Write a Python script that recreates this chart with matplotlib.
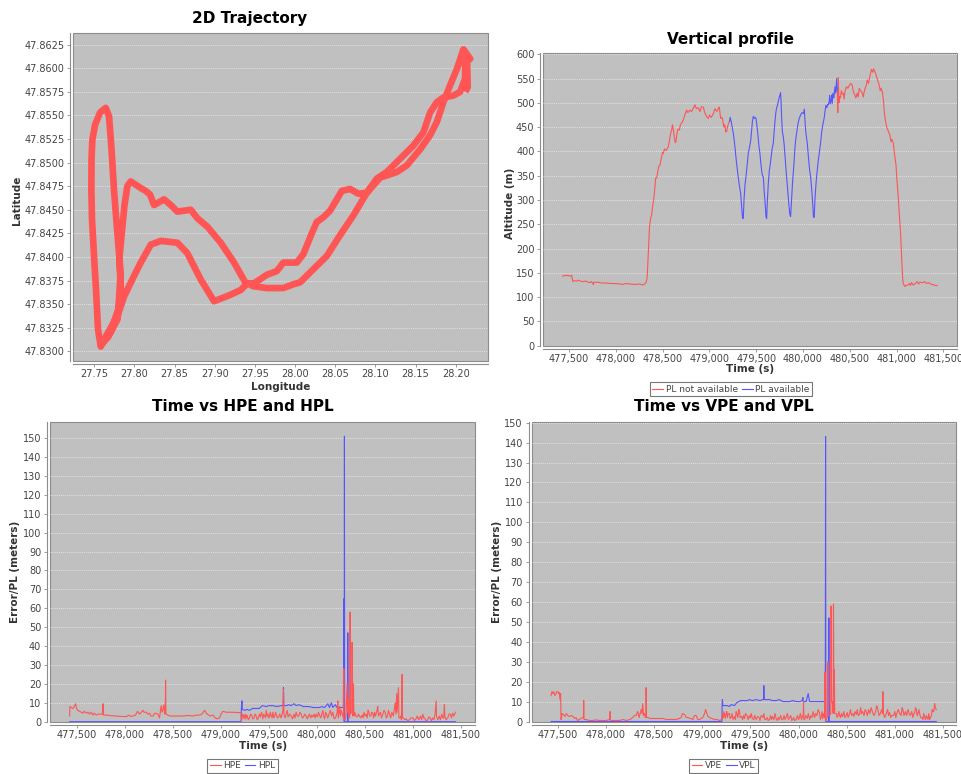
import matplotlib
matplotlib.use("Agg")
import matplotlib.pyplot as plt
from matplotlib.ticker import FuncFormatter, MultipleLocator

# ---- 2D trajectory (lon, lat) read along the flight path ----
traj_lon = [28.2096, 28.2014, 28.1931, 28.1847, 28.1765, 28.1681, 28.1557, 28.1391, 28.1267,
            28.1059, 28.0893, 28.0726, 28.0560, 28.0395, 28.0228, 28.0062, 27.9979, 27.9854,
            27.9647, 27.9477, 27.9406, 27.9324, 27.9199, 27.8991, 27.8825, 27.8658, 27.8534,
            27.8327, 27.8203, 27.8078, 27.7995, 27.7870, 27.7786, 27.7658, 27.7580,
            27.7546, 27.7521, 27.7496, 27.7471, 27.7463, 27.7465, 27.7475, 27.7509, 27.7571, 27.7642,
            27.7683, 27.7714, 27.7745, 27.7783, 27.7814, 27.7829, 27.7789, 27.7671, 27.7583,
            27.7700, 27.7800, 27.7825, 27.7814, 27.7846, 27.7876, 27.7911, 27.7953,
            27.8078, 27.8140, 27.8194, 27.8244, 27.8368, 27.8452, 27.8534, 27.8701, 27.8783,
            27.8908, 27.9074, 27.9240, 27.9386, 27.9489, 27.9647, 27.9772, 27.9854, 28.0021,
            28.0103, 28.0208, 28.0270, 28.0352, 28.0436, 28.0582, 28.0685, 28.0788, 28.0893,
            28.1018, 28.1142, 28.1308, 28.1473, 28.1598, 28.1681, 28.1765, 28.1847, 28.1972,
            28.2055, 28.2117, 28.2117, 28.2096, 28.2180, 28.2142, 28.2150, 28.2120]
traj_lat = [47.8620, 47.8599, 47.8582, 47.8564, 47.8543, 47.8529, 47.8514, 47.8497, 47.8490,
            47.8484, 47.8468, 47.8444, 47.8423, 47.8401, 47.8387, 47.8373, 47.8371, 47.8367,
            47.8367, 47.8369, 47.8372, 47.8365, 47.8360, 47.8353, 47.8376, 47.8404, 47.8415,
            47.8417, 47.8413, 47.8394, 47.8380, 47.8358, 47.8337, 47.8318, 47.8305,
            47.8323, 47.8365, 47.8401, 47.8440, 47.8471, 47.8503, 47.8524, 47.8540, 47.8553, 47.8558,
            47.8549, 47.8514, 47.8471, 47.8429, 47.8397, 47.8365, 47.8334, 47.8315, 47.8307,
            47.8320, 47.8345, 47.8380, 47.8400, 47.8429, 47.8455, 47.8475, 47.8480,
            47.8473, 47.8470, 47.8466, 47.8455, 47.8461, 47.8455, 47.8448, 47.8450, 47.8441,
            47.8432, 47.8415, 47.8394, 47.8372, 47.8372, 47.8381, 47.8385, 47.8394, 47.8394,
            47.8403, 47.8425, 47.8437, 47.8442, 47.8449, 47.8470, 47.8472, 47.8467, 47.8468,
            47.8483, 47.8490, 47.8504, 47.8518, 47.8532, 47.8553, 47.8564, 47.8569, 47.8571,
            47.8575, 47.8589, 47.8613, 47.8620, 47.8610, 47.8607, 47.8580, 47.8575]

# ---- vertical profile ----
alt_red1_t = [477432, 477450, 477470, 477490, 477510, 477528, 477535, 477540, 477560, 477580,
              477600, 477620, 477650, 477680, 477700, 477720, 477740, 477760, 477765, 477780,
              477800, 477850, 477900, 477950, 478000, 478050, 478080, 478100, 478150, 478200,
              478250, 478290, 478310, 478325, 478335, 478347, 478360, 478372, 478383, 478390,
              478400, 478408, 478420, 478425, 478436, 478450, 478460, 478472, 478485, 478500,
              478508, 478520, 478540, 478561, 478575, 478590, 478597, 478605, 478614, 478625,
              478635, 478643, 478655, 478665, 478679, 478690, 478710, 478721, 478740, 478757,
              478770, 478793, 478810, 478830, 478846, 478860, 478880, 478900, 478915, 478935,
              478950, 478970, 478988, 479000, 479020, 479042, 479060, 479080, 479100, 479106,
              479120, 479135, 479142, 479155, 479165, 479175, 479184, 479195, 479206, 479215]
alt_red1 = [143, 145, 144, 145, 143, 145, 138, 132, 134, 133,
            135, 133, 132, 133, 131, 130, 132, 126, 131, 130,
            131, 129, 129, 128, 128, 127, 126, 128, 127, 126,
            127, 125, 127, 131, 140, 190, 245, 262, 269, 282,
            295, 307, 330, 345, 345, 360, 370, 372, 385, 398,
            396, 405, 402, 410, 425, 440, 444, 455, 446, 430,
            418, 420, 440, 446, 444, 455, 460, 465, 476, 485,
            480, 485, 482, 490, 496, 488, 490, 482, 492, 491,
            480, 472, 468, 475, 470, 478, 488, 482, 490, 491,
            468, 470, 465, 450, 455, 440, 441, 452, 458, 462]
alt_blue_t = [479215, 479222, 479235, 479245, 479256, 479270, 479280, 479291, 479305, 479320,
              479334, 479345, 479355, 479362, 479370, 479380, 479391, 479405, 479415, 479426,
              479440, 479450, 479460, 479469, 479480, 479490, 479498, 479510, 479520, 479530,
              479540, 479550, 479560, 479568, 479576, 479585, 479595, 479605, 479612, 479620,
              479630, 479640, 479647, 479658, 479670, 479683, 479692, 479700, 479710, 479718,
              479730, 479745, 479761, 479765, 479772, 479780, 479790, 479800, 479812, 479825,
              479838, 479850, 479860, 479868, 479878, 479890, 479904, 479915, 479925, 479932,
              479945, 479960, 479975, 479990, 480005, 480014, 480022, 480030, 480046, 480060,
              480072, 480082, 480095, 480105, 480112, 480120, 480128, 480140, 480146, 480160,
              480175, 480188, 480200, 480215, 480228, 480235, 480245, 480255, 480265, 480270,
              480280, 480285, 480290, 480300, 480306, 480312, 480320, 480330, 480342, 480350,
              480360, 480367]
alt_blue = [462, 470, 460, 448, 437, 415, 395, 375, 352, 330,
            314, 285, 262, 262, 300, 330, 348, 375, 395, 406,
            420, 440, 462, 472, 468, 470, 468, 450, 432, 410,
            396, 375, 358, 350, 348, 320, 295, 265, 262, 300,
            335, 360, 368, 385, 405, 417, 440, 460, 480, 489,
            497, 510, 521, 505, 470, 440, 430, 412, 380, 348,
            318, 290, 270, 266, 300, 340, 375, 410, 428, 437,
            455, 468, 475, 480, 478, 487, 462, 440, 417, 385,
            360, 348, 318, 290, 265, 264, 300, 335, 348, 375,
            398, 417, 440, 458, 470, 482, 495, 490, 497, 496,
            502, 515, 498, 505, 516, 498, 520, 510, 533, 520,
            550, 525]
alt_red2_t = [480367, 480372, 480378, 480385, 480388, 480400, 480410, 480420, 480431, 480440,
              480450, 480466, 480480, 480495, 480512, 480525, 480540, 480555, 480565, 480580,
              480590, 480602, 480615, 480630, 480645, 480651, 480665, 480675, 480687, 480700,
              480715, 480733, 480745, 480755, 480769, 480785, 480800, 480815, 480825, 480835,
              480851, 480860, 480870, 480880, 480894, 480905, 480915, 480929, 480940, 480950,
              480965, 480975, 480985, 480993, 481005, 481018, 481030, 481043, 481055, 481065,
              481072, 481080, 481089, 481100, 481120, 481140, 481150, 481160, 481178, 481200,
              481220, 481235, 481250, 481265, 481285, 481300, 481320, 481340, 481356, 481380,
              481400, 481420, 481434]
alt_red2 = [525, 480, 552, 500, 513, 510, 525, 518, 520, 508,
            525, 533, 530, 536, 540, 537, 522, 516, 510, 520,
            512, 530, 525, 522, 512, 520, 530, 535, 547, 540,
            555, 569, 563, 570, 564, 555, 545, 537, 525, 530,
            520, 505, 480, 465, 451, 445, 440, 434, 420, 425,
            417, 400, 385, 375, 340, 307, 270, 231, 180, 140,
            128, 125, 122, 124, 125, 128, 124, 130, 125, 128,
            132, 127, 131, 130, 130, 132, 128, 130, 128, 126,
            125, 124, 124]

# ---- HPE / HPL, (time, metres) ----
hpe_pts = [
    (477424, 3), (477426, 8), (477440, 7.5), (477458, 7), (477470, 8), (477486, 9.5),
    (477495, 7), (477510, 6), (477525, 5.5), (477545, 5), (477560, 4.5), (477575, 5.5),
    (477597, 4.5), (477615, 5), (477630, 4), (477649, 5), (477665, 3.5), (477680, 4.5),
    (477701, 3.5), (477720, 4), (477736, 4), (477765, 4), (477771, 9.5), (477776, 3.5),
    (477805, 3.5), (477850, 3.2), (477909, 3), (477950, 2.8), (478014, 2.7), (478040, 3.5),
    (478060, 2.8), (478083, 3), (478110, 3.5), (478130, 5.5), (478152, 4), (478170, 5),
    (478187, 6), (478200, 5), (478222, 5), (478240, 4), (478256, 4.5), (478270, 3),
    (478291, 3), (478310, 4.5), (478343, 4), (478360, 2), (478370, 6), (478378, 8.5),
    (478385, 5), (478395, 6), (478405, 9), (478415, 4), (478420, 5), (478423, 22),
    (478426, 4), (478447, 3.5), (478470, 3), (478499, 3), (478550, 3), (478603, 3),
    (478650, 3.3), (478708, 3), (478740, 3.5), (478777, 3.5), (478800, 4), (478830, 6),
    (478846, 4.5), (478870, 3.5), (478890, 3), (478916, 3.5), (478940, 2), (478960, 1.5),
    (478985, 2), (479000, 4), (479020, 5.5), (479055, 5), (479090, 5), (479124, 5),
    (479170, 4.8), (479205, 4.7),
    (479211, 4.5), (479214, 0.5), (479221, 2.5), (479228, 4), (479235, 3), (479240, 1.5),
    (479245, 2.5), (479252, 4), (479260, 1.5), (479268, 3.5), (479275, 3), (479285, 1),
    (479297, 2), (479308, 4), (479320, 3.5), (479330, 1.5), (479345, 2), (479355, 4),
    (479367, 3), (479378, 1), (479390, 2), (479400, 4), (479410, 2.5), (479422, 5),
    (479436, 1.5), (479445, 4), (479455, 3), (479465, 2), (479471, 6), (479480, 3),
    (479490, 4), (479498, 2), (479505, 3), (479515, 5), (479523, 3), (479532, 2),
    (479540, 5), (479550, 2), (479560, 3), (479568, 5), (479575, 4), (479588, 2),
    (479600, 2.5), (479612, 4), (479627, 2), (479637, 4), (479645, 6), (479651, 17),
    (479656, 4), (479668, 2), (479679, 4), (479690, 6), (479700, 2.5), (479715, 4),
    (479731, 3), (479745, 1.5), (479760, 4), (479770, 2), (479783, 5), (479795, 3),
    (479810, 3), (479822, 5), (479835, 4), (479848, 2), (479860, 2.5), (479872, 4),
    (479887, 3), (479900, 1.5), (479910, 3), (479920, 4), (479935, 2), (479945, 3.5),
    (479957, 2.5), (479970, 4), (479980, 2), (479990, 4), (480005, 2.5), (480015, 5),
    (480026, 3.5), (480040, 2), (480050, 4), (480061, 6), (480070, 3), (480080, 1.5),
    (480090, 5), (480100, 4), (480113, 2), (480125, 4), (480140, 6), (480152, 3),
    (480165, 5), (480175, 2), (480185, 1.5), (480200, 3), (480210, 5), (480217, 11),
    (480222, 2), (480230, 5), (480235, 8), (480245, 3), (480252, 6), (480265, 4),
    (480276, 2), (480279, 28), (480283, 1), (480293, 1), (480300, 2), (480314, 20),
    (480318, 5), (480324, 12), (480330, 4), (480340, 2), (480345, 58), (480349, 4),
    (480356, 5), (480363, 5), (480366, 42), (480370, 3), (480376, 5), (480380, 20),
    (480384, 3),
    (480394, 5), (480405, 3), (480420, 2.5), (480432, 4), (480443, 3), (480455, 2),
    (480470, 3.5), (480480, 2), (480490, 5), (480500, 3), (480512, 4), (480522, 2),
    (480532, 6), (480540, 5), (480550, 3), (480560, 3), (480570, 5), (480581, 4.5),
    (480590, 2), (480600, 5), (480608, 3), (480615, 4), (480625, 6), (480633, 8),
    (480640, 3), (480650, 4), (480660, 5), (480672, 2), (480685, 4), (480698, 6),
    (480710, 5), (480722, 2), (480735, 3), (480745, 6), (480755, 4), (480768, 2),
    (480780, 5), (480795, 3), (480807, 7), (480815, 10), (480822, 4), (480831, 15),
    (480835, 5), (480849, 18), (480853, 2), (480866, 2), (480875, 3), (480880, 1),
    (480887, 25), (480891, 2), (480901, 2), (480915, 1), (480930, 1.5), (480945, 0.5),
    (480963, 1), (480980, 2), (481000, 2), (481015, 0.5), (481032, 1.5), (481045, 3),
    (481060, 1), (481070, 2), (481080, 3), (481090, 1), (481102, 4), (481112, 2),
    (481120, 2), (481135, 0.5), (481154, 1), (481165, 2.5), (481180, 2), (481192, 0.5),
    (481206, 2), (481218, 1), (481230, 4), (481241, 11), (481245, 3), (481258, 1),
    (481275, 3), (481285, 1), (481300, 4), (481310, 2), (481320, 2), (481327, 9),
    (481332, 3), (481345, 1), (481362, 2), (481375, 4), (481390, 4), (481400, 2),
    (481414, 4.5), (481425, 3), (481442, 5)]
hpl_pts = [
    (477424, 0), (479210, 0), (479212, 6.5), (479218, 11), (479222, 6.5), (479245, 6),
    (479270, 6.5), (479297, 6), (479330, 7), (479367, 7), (479400, 7), (479430, 8.5),
    (479470, 8), (479500, 8.5), (479540, 8.5), (479580, 8), (479627, 8.5), (479648, 8.5),
    (479651, 18), (479654, 8.5), (479679, 8.5), (479710, 9), (479731, 8.5), (479760, 9.5),
    (479783, 8.5), (479810, 9), (479835, 8.5), (479860, 8), (479887, 8), (479920, 8),
    (479957, 7.5), (480000, 7.5), (480026, 7.5), (480050, 8), (480080, 7.5), (480113, 9.5),
    (480130, 7.5), (480150, 10), (480165, 7.5), (480190, 9), (480210, 7.5), (480252, 7.5),
    (480275, 7.5), (480280, 65), (480284, 0), (480286, 151), (480288, 0), (480318, 0),
    (480321, 47), (480324, 0), (481442, 0)]

# ---- VPE / VPL, (time, metres) ----
vpe_pts = [
    (477431, 13), (477440, 15), (477448, 14), (477460, 15), (477470, 13), (477483, 14),
    (477490, 15), (477500, 15), (477510, 14), (477517, 14.5), (477524, 11), (477530, 14),
    (477535, 1), (477545, 4), (477559, 3.5), (477575, 2.5), (477590, 4), (477604, 3),
    (477620, 2.5), (477639, 3), (477660, 2.5), (477675, 1.5), (477690, 2), (477705, 0.5),
    (477725, 1), (477740, 1.5), (477760, 2), (477767, 2), (477770, 10.5), (477773, 1),
    (477794, 1), (477830, 0.5), (477864, 0.5), (477900, 0.8), (477933, 0.5), (477970, 0.5),
    (478002, 0.5), (478040, 1), (478044, 5), (478048, 0.5), (478071, 0.5), (478141, 0.5),
    (478180, 1), (478210, 0.5), (478250, 1), (478279, 2), (478295, 3), (478314, 3),
    (478330, 5), (478345, 2), (478366, 6), (478375, 4), (478383, 9), (478390, 3),
    (478400, 4), (478410, 2), (478416, 2), (478418, 17), (478421, 2), (478435, 2),
    (478460, 1.5), (478487, 1.5), (478530, 1.5), (478591, 1.5), (478630, 1), (478660, 1),
    (478700, 1), (478729, 1), (478760, 1.5), (478781, 2), (478795, 4), (478816, 3.5),
    (478835, 2), (478851, 2), (478880, 1.5), (478903, 1), (478920, 3), (478937, 3),
    (478955, 1), (478972, 1), (478990, 1.5), (479006, 2), (479025, 4), (479035, 6),
    (479041, 5), (479060, 2.5), (479076, 2), (479100, 1.5), (479128, 1), (479155, 1),
    (479180, 0.5), (479200, 1),
    (479207, 1), (479212, 4), (479218, 2), (479225, 5), (479231, 3.5), (479240, 1.5),
    (479248, 4), (479255, 5), (479262, 2), (479270, 4), (479283, 4), (479290, 1.5),
    (479300, 2), (479310, 4), (479320, 1), (479335, 2.5), (479345, 1), (479352, 5),
    (479360, 4), (479370, 2), (479380, 6), (479387, 5), (479395, 2), (479410, 2.5),
    (479420, 1), (479430, 3), (479439, 1.5), (479450, 4), (479465, 3), (479478, 1),
    (479491, 3), (479500, 2), (479510, 4), (479520, 1.5), (479535, 1), (479545, 3),
    (479560, 1), (479575, 2.5), (479590, 2), (479600, 0.5), (479612, 3), (479630, 2),
    (479640, 4), (479650, 1), (479660, 1), (479675, 2), (479685, 0.5), (479699, 1),
    (479710, 3), (479720, 1), (479730, 2.5), (479745, 1), (479755, 4), (479768, 1.5),
    (479780, 0.5), (479790, 2), (479800, 1), (479815, 3), (479825, 1), (479838, 1),
    (479850, 3), (479860, 1), (479870, 2), (479885, 4), (479895, 1), (479907, 2),
    (479920, 3), (479930, 0.5), (479940, 1), (479950, 2), (479960, 0.5), (479976, 1),
    (479990, 3), (480000, 1), (480010, 2), (480020, 4), (480030, 1), (480045, 3),
    (480049, 3), (480052, 10), (480056, 1), (480063, 1), (480075, 3), (480090, 1.5),
    (480102, 4), (480115, 1), (480128, 3), (480140, 2), (480152, 5), (480167, 2),
    (480178, 4), (480190, 3), (480205, 6), (480218, 4), (480228, 1), (480235, 2),
    (480245, 5), (480253, 1.5), (480262, 4), (480270, 2), (480275, 25), (480279, 0.5),
    (480290, 1), (480303, 3), (480305, 30), (480308, 3), (480322, 3), (480335, 4),
    (480338, 58), (480343, 10), (480350, 10), (480360, 4), (480363, 59), (480368, 5),
    (480372, 26), (480376, 4),
    (480392, 4), (480400, 2), (480410, 3), (480418, 5), (480426, 3), (480435, 2),
    (480445, 4), (480452, 2.5), (480460, 3), (480470, 5), (480480, 2), (480495, 3),
    (480505, 4.5), (480515, 2), (480530, 4), (480540, 6), (480550, 3), (480565, 4),
    (480575, 2.5), (480585, 5), (480600, 3.5), (480610, 6), (480620, 3), (480634, 3.5),
    (480645, 7), (480655, 4), (480665, 5), (480680, 3), (480692, 6), (480703, 5),
    (480715, 3), (480728, 6), (480740, 4), (480755, 7), (480772, 4), (480785, 3),
    (480800, 5), (480812, 8), (480824, 6), (480835, 3), (480850, 4), (480862, 6),
    (480872, 4), (480876, 15), (480880, 4), (480895, 2), (480911, 4), (480925, 6),
    (480935, 3), (480946, 4.5), (480958, 2), (480970, 3), (480987, 3), (481000, 5),
    (481010, 2), (481020, 4), (481035, 6), (481050, 4), (481065, 3), (481075, 7),
    (481084, 6), (481095, 3), (481110, 5), (481122, 3), (481136, 6), (481148, 4),
    (481160, 3), (481175, 5), (481188, 2), (481198, 4), (481205, 4), (481215, 7),
    (481223, 6), (481232, 3), (481240, 4), (481250, 6), (481257, 4), (481268, 2),
    (481280, 2), (481292, 1), (481300, 4), (481310, 2), (481318, 1), (481327, 3),
    (481336, 2), (481345, 1), (481352, 4), (481361, 1), (481370, 2), (481380, 3),
    (481388, 6), (481396, 5), (481405, 5), (481413, 9), (481420, 7), (481430, 6)]
vpl_pts = [
    (477431, 0), (479205, 0), (479207, 8), (479210, 11), (479214, 8), (479231, 8),
    (479260, 8), (479283, 7.5), (479300, 8.5), (479335, 8), (479360, 9.5), (479380, 10),
    (479400, 10.5), (479439, 10.5), (479470, 10.5), (479491, 11), (479520, 10.5),
    (479560, 11), (479600, 10.5), (479630, 11), (479637, 11), (479640, 18), (479644, 11),
    (479670, 11), (479699, 11), (479730, 10.5), (479768, 10.5), (479800, 11), (479838, 10),
    (479870, 10), (479907, 10), (479940, 10.5), (479976, 10), (480010, 10), (480040, 10.5),
    (480045, 12), (480050, 10), (480080, 10), (480100, 14), (480115, 10), (480150, 10),
    (480190, 10), (480218, 10), (480253, 10), (480270, 10), (480278, 10), (480281, 143),
    (480284, 0), (480312, 0), (480315, 52), (480318, 0), (481430, 0)]

time_ticks = [477500, 478000, 478500, 479000, 479500, 480000, 480500, 481000, 481500]

RED = "#FF5555"
BLUE = "#5555FF"
W, H = 962, 774

fig = plt.figure(figsize=(W / 100, H / 100), dpi=100)


def box(left, top, right, bottom):
    return [left / W, 1 - bottom / H, (right - left) / W, (bottom - top) / H]


def ftext(x, y, s, **kw):
    fig.text(x / W, 1 - y / H, s, ha="center", va="center", **kw)


def style(ax):
    ax.set_facecolor("#C0C0C0")
    ax.patch.set_edgecolor("#8C8C8C")
    ax.patch.set_linewidth(0.8)
    for side in ["top", "right"]:
        ax.spines[side].set_visible(False)
    for side in ["left", "bottom"]:
        ax.spines[side].set_position(("outward", 2.3))
        ax.spines[side].set_color("#8C8C8C")
        ax.spines[side].set_linewidth(0.8)
    ax.tick_params(length=2, width=0.6, color="#8C8C8C", labelsize=7,
                   labelcolor="#444444", pad=2)
    ax.grid(axis="y", color="#EEEEEE", linestyle=(0, (1.5, 1.5)), linewidth=0.5)
    ax.set_axisbelow(True)


def thousands(v, pos):
    return f"{v:,.0f}"


def add_legend(handles, labels, x, y):
    lg = fig.legend(handles, labels, loc="center", bbox_to_anchor=(x / W, 1 - y / H),
                    ncol=2, fontsize=6.5, frameon=True, fancybox=False,
                    edgecolor="#555555", handlelength=1.2, handletextpad=0.3,
                    columnspacing=0.4, borderpad=0.25, borderaxespad=0)
    lg.get_frame().set_linewidth(0.8)
    for t in lg.get_texts():
        t.set_color("#444444")


# ---- 2D Trajectory ----
ax1 = fig.add_axes(box(73.3, 33.3, 488.3, 360.7))
style(ax1)
ax1.plot(traj_lon, traj_lat, color=RED, linewidth=4.8, solid_joinstyle="round",
         solid_capstyle="butt")
ax1.set_xlim(27.7238, 28.2406)
ax1.set_ylim(47.8290, 47.8637)
ax1.xaxis.set_major_locator(MultipleLocator(0.05))
ax1.yaxis.set_major_locator(MultipleLocator(0.0025))
ax1.xaxis.set_major_formatter(FuncFormatter(lambda v, p: f"{v:.2f}"))
ax1.yaxis.set_major_formatter(FuncFormatter(lambda v, p: f"{v:.4f}"))
ftext(250, 19, "2D Trajectory", fontsize=11, fontweight="bold")
ftext(280.7, 386.7, "Longitude", fontsize=7.5, fontweight="bold", color="#333333")
ftext(16.7, 200, "Latitude", fontsize=7.5, fontweight="bold", color="#333333", rotation=90)

# ---- Vertical profile ----
ax2 = fig.add_axes(box(543.3, 53.3, 956.7, 345.7))
style(ax2)
l1, = ax2.plot(alt_red1_t, alt_red1, color=RED, linewidth=0.8)
ax2.plot(alt_red2_t, alt_red2, color=RED, linewidth=0.8)
l2, = ax2.plot(alt_blue_t, alt_blue, color=BLUE, linewidth=0.8)
ax2.set_xlim(477225, 481643)
ax2.set_ylim(0, 602)
ax2.set_xticks(time_ticks)
ax2.yaxis.set_major_locator(MultipleLocator(50))
ax2.xaxis.set_major_formatter(FuncFormatter(thousands))
ftext(730.7, 39.3, "Vertical profile", fontsize=11, fontweight="bold")
ftext(750, 369.3, "Time (s)", fontsize=7.5, fontweight="bold", color="#333333")
ftext(510, 203.3, "Altitude (m)", fontsize=7.5, fontweight="bold", color="#333333", rotation=90)
add_legend([l1, l2], ["PL not available", "PL available"], 731, 389.2)

# ---- HPE / HPL ----
hpe_t, hpe = zip(*hpe_pts)
hpl_t, hpl = zip(*hpl_pts)
ax3 = fig.add_axes(box(50, 422, 475, 721.7))
style(ax3)
h1, = ax3.plot(hpe_t, hpe, color=RED, linewidth=0.8, zorder=3)
h2, = ax3.plot(hpl_t, hpl, color=BLUE, linewidth=0.8, zorder=2)
ax3.set_xlim(477219, 481646)
ax3.set_ylim(0, 158.5)
ax3.set_xticks(time_ticks)
ax3.yaxis.set_major_locator(MultipleLocator(10))
ax3.xaxis.set_major_formatter(FuncFormatter(thousands))
ftext(242.7, 406.7, "Time vs HPE and HPL", fontsize=11, fontweight="bold")
ftext(263.3, 745.7, "Time (s)", fontsize=7.5, fontweight="bold", color="#333333")
ftext(15, 572, "Error/PL (meters)", fontsize=7.5, fontweight="bold", color="#333333", rotation=90)
add_legend([h1, h2], ["HPE", "HPL"], 242.5, 765.8)

# ---- VPE / VPL ----
vpe_t, vpe = zip(*vpe_pts)
vpl_t, vpl = zip(*vpl_pts)
ax4 = fig.add_axes(box(531.7, 421.7, 956, 721.5))
style(ax4)
v1, = ax4.plot(vpe_t, vpe, color=RED, linewidth=0.8, zorder=3)
v2, = ax4.plot(vpl_t, vpl, color=BLUE, linewidth=0.8, zorder=2)
ax4.set_xlim(477230, 481635)
ax4.set_ylim(0, 150.5)
ax4.set_xticks(time_ticks)
ax4.yaxis.set_major_locator(MultipleLocator(10))
ax4.xaxis.set_major_formatter(FuncFormatter(thousands))
ftext(724, 406.7, "Time vs VPE and VPL", fontsize=11, fontweight="bold")
ftext(744, 745.7, "Time (s)", fontsize=7.5, fontweight="bold", color="#333333")
ftext(496.7, 572, "Error/PL (meters)", fontsize=7.5, fontweight="bold", color="#333333", rotation=90)
add_legend([v1, v2], ["VPE", "VPL"], 723.7, 765.8)

fig.savefig("out.png", dpi=100)
